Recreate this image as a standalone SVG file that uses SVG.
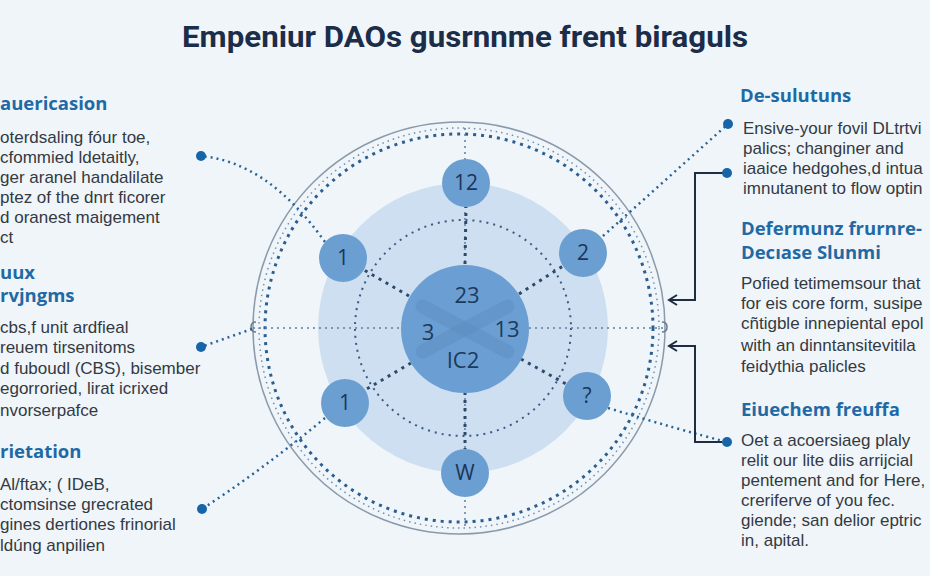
<svg xmlns="http://www.w3.org/2000/svg" width="930" height="576" viewBox="0 0 930 576">
<defs>
<style>
.title{font-family:Roboto,"Liberation Sans",sans-serif;font-weight:700;font-size:29px;fill:#1b2d48}
.hd{font-family:"Open Sans","Liberation Sans",sans-serif;font-weight:700;font-size:18.5px;fill:#1f6aa5}
.bd{font-family:"Liberation Sans",Arial,sans-serif;font-size:17px;fill:#333a42}
.nl{font-family:"Open Sans","Liberation Sans",sans-serif;font-size:21px;fill:#1d3557;text-anchor:middle}
.cl{font-family:"Open Sans","Liberation Sans",sans-serif;font-size:22px;fill:#1d3a5c;text-anchor:middle}
.sat{fill:#6b9fd2}
.dot{fill:#1565a8}
.spoke{stroke:#2d4a6a;stroke-width:3;stroke-dasharray:3 5;fill:none}
.link{stroke:#2a6296;stroke-width:2.5;stroke-dasharray:2 4;fill:none}
.axis{stroke:#5f7f9f;stroke-width:1.5;stroke-dasharray:2 4;fill:none}
.brk{stroke:#1e2d40;stroke-width:2;fill:none}
</style>
<marker id="arr" markerWidth="12" markerHeight="12" refX="9" refY="6" orient="auto" markerUnits="userSpaceOnUse">
<path d="M1,1 L9,6 L1,11" fill="none" stroke="#1e2d40" stroke-width="2"/>
</marker>
</defs>
<rect width="930" height="576" fill="#f0f5fa"/>
<text class="title" x="465" y="47" text-anchor="middle" textLength="566" lengthAdjust="spacingAndGlyphs">Empeniur DAOs gusrnnme frent biraguls</text>

<g id="rings">
<circle cx="459" cy="328" r="206" fill="none" stroke="#8a9aaa" stroke-width="1.5"/>
<circle cx="459" cy="328" r="200" fill="none" stroke="#6d8fb0" stroke-width="1.5" stroke-dasharray="1.5 4"/>
<circle cx="459" cy="328" r="194" fill="none" stroke="#2a5f90" stroke-width="3" stroke-dasharray="3 5"/>
<circle cx="463" cy="328" r="145" fill="#cddff0"/>
<circle cx="463" cy="328" r="108" fill="none" stroke="#3a5a80" stroke-width="2" stroke-dasharray="2 5"/>
<path d="M256,322 Q251,322 251,327 Q251,332 256,332" fill="none" stroke="#6a7c8e" stroke-width="1.5"/>
<path d="M662,322 Q667,322 667,327 Q667,332 662,332" fill="none" stroke="#6a7c8e" stroke-width="1.5"/>
</g>

<g id="connectors">
<line class="axis" x1="465" y1="128" x2="465" y2="530"/>
<line class="axis" x1="253" y1="328" x2="665" y2="328"/>
<line class="spoke" x1="465" y1="264" x2="466" y2="207"/>
<line class="spoke" x1="465" y1="392" x2="465" y2="449"/>
<line class="spoke" x1="409" y1="296" x2="364" y2="270"/>
<line class="spoke" x1="519" y1="294" x2="563" y2="266"/>
<line class="spoke" x1="411" y1="363" x2="365" y2="390"/>
<line class="spoke" x1="521" y1="359" x2="566" y2="384"/>
<path class="link" d="M325,242 Q268,162 201,156"/>
<path class="link" d="M325,418 Q262,470 202,509"/>
<path class="link" d="M252,329 L201,347"/>
<path class="link" d="M603,236 L728,124"/>
<path class="link" d="M608,408 Q680,430 727,442"/>
<path class="brk" d="M727,173 H695 V300 H669" marker-end="url(#arr)"/>
<path class="brk" d="M722,442 H695 V346 H669" marker-end="url(#arr)"/>
</g>

<g id="center">
<circle cx="465" cy="329" r="64" fill="#6b9fd3"/>
<rect x="410" y="322" width="110" height="14" rx="7" fill="#5b8abd" opacity="0.4" transform="rotate(28 465 329)"/>
<rect x="410" y="322" width="110" height="14" rx="7" fill="#5b8abd" opacity="0.4" transform="rotate(-28 465 329)"/>
<text class="cl" x="467" y="303">23</text>
<text class="cl" x="428" y="340">3</text>
<text class="cl" x="507" y="337">13</text>
<text class="cl" x="463" y="368">IC2</text>
</g>

<g id="n12"><circle class="sat" cx="466" cy="183" r="24"/><text class="nl" x="466" y="190">12</text></g>
<g id="n1a"><circle class="sat" cx="343" cy="258" r="24"/><text class="nl" x="343" y="265">1</text></g>
<g id="n2"><circle class="sat" cx="583" cy="253" r="24"/><text class="nl" x="583" y="260">2</text></g>
<g id="n1b"><circle class="sat" cx="345" cy="403" r="24"/><text class="nl" x="345" y="410">1</text></g>
<g id="nq"><circle class="sat" cx="587" cy="396" r="24"/><text class="nl" x="587" y="403">?</text></g>
<g id="nw"><circle class="sat" cx="465" cy="473" r="24"/><text class="nl" x="465" y="480">W</text></g>

<g id="dots">
<circle class="dot" cx="201" cy="156" r="5"/>
<circle class="dot" cx="201" cy="347" r="5"/>
<circle class="dot" cx="202" cy="509" r="5"/>
<circle class="dot" cx="728" cy="124" r="5"/>
<circle class="dot" cx="727" cy="173" r="5"/>
<circle class="dot" cx="727" cy="442" r="5"/>
</g>

<g id="left1">
<text class="hd" x="0" y="110">auericasion</text>
<text class="bd" x="0" y="143">oterdsaling fóur toe,</text>
<text class="bd" x="0" y="163">cfommied ldetaitly,</text>
<text class="bd" x="0" y="183">ger aranel handalilate</text>
<text class="bd" x="0" y="203">ptez of the dnrt ficorer</text>
<text class="bd" x="0" y="223">d oranest maigement</text>
<text class="bd" x="0" y="243">ct</text>
</g>
<g id="left2">
<text class="hd" x="0" y="279">uux</text>
<text class="hd" x="0" y="302">rvjngms</text>
<text class="bd" x="0" y="333">cbs,f unit ardfieal</text>
<text class="bd" x="0" y="353">reuem tirsenitoms</text>
<text class="bd" x="0" y="374">d fuboudl (CBS), bisember</text>
<text class="bd" x="0" y="394">egorroried, lirat icrixed</text>
<text class="bd" x="0" y="416">nvorserpafce</text>
</g>
<g id="left3">
<text class="hd" x="0" y="458">rietation</text>
<text class="bd" x="0" y="490">Al/ftax; ( IDeB,</text>
<text class="bd" x="0" y="510">ctomsinse grecrated</text>
<text class="bd" x="0" y="530">gines dertiones frinorial</text>
<text class="bd" x="0" y="551">ldúng anpilien</text>
</g>
<g id="right1">
<text class="hd" x="740" y="102">De-sulutuns</text>
<text class="bd" x="743" y="134">Ensive-your fovil DLtrtvi</text>
<text class="bd" x="743" y="154">palics; changiner and</text>
<text class="bd" x="743" y="174">iaaice hedgohes,d intua</text>
<text class="bd" x="743" y="194">imnutanent to flow optin</text>
</g>
<g id="right2">
<text class="hd" x="741" y="235">Defermunz frurnre-</text>
<text class="hd" x="741" y="259">Decıase Slunmi</text>
<text class="bd" x="741" y="289">Pofied tetimemsour that</text>
<text class="bd" x="741" y="309">for eis core form, susipe</text>
<text class="bd" x="741" y="329">cñtigble innepiental epol</text>
<text class="bd" x="741" y="351">with an dinntansitevitila</text>
<text class="bd" x="741" y="372">feidythia palicles</text>
</g>
<g id="right3">
<text class="hd" x="741" y="416">Eiuechem freuffa</text>
<text class="bd" x="741" y="446">Oet a acoersiaeg plaly</text>
<text class="bd" x="741" y="466">relit our lite diis arrijcial</text>
<text class="bd" x="741" y="486">pentement and for Here,</text>
<text class="bd" x="741" y="506">creriferve of you fec.</text>
<text class="bd" x="741" y="526">giende; san delior eptric</text>
<text class="bd" x="741" y="546">in, apital.</text>
</g>
</svg>
